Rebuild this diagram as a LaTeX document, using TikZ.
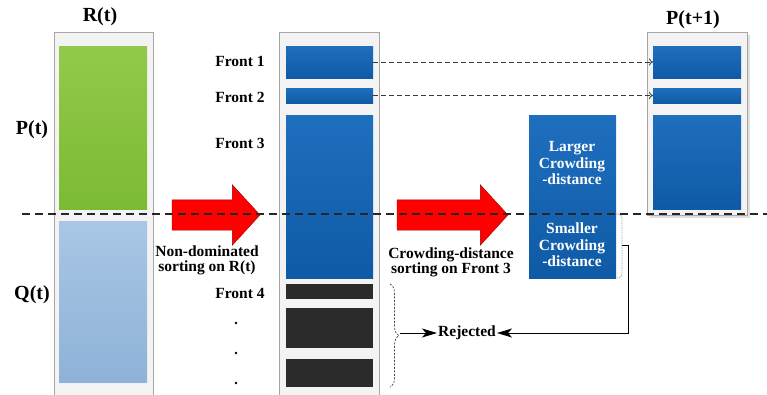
\documentclass[tikz,border=0pt]{standalone}
\usepackage{fontspec}
\setmainfont{Liberation Serif}
\usetikzlibrary{shapes.arrows,decorations.pathreplacing,shadows,arrows.meta}

\definecolor{outergray}{RGB}{243,243,243}
\definecolor{greentop}{RGB}{146,201,74}
\definecolor{greenbot}{RGB}{124,186,52}
\definecolor{qbluetop}{RGB}{169,198,229}
\definecolor{qbluebot}{RGB}{142,178,216}
\definecolor{fbluetop}{RGB}{31,111,191}
\definecolor{fbluebot}{RGB}{14,90,165}
\definecolor{rejblack}{RGB}{43,43,43}

\begin{document}
\begin{tikzpicture}[x=1pt, y=-1pt,
    slab/.style={inner sep=0, outer sep=0, anchor=north west},
    outer/.style={slab, fill=outergray, draw=gray!70},
    front/.style={slab, top color=fbluetop, bottom color=fbluebot},
    rejbox/.style={slab, fill=rejblack},
    lbl/.style={font=\fontsize{15.5}{15}\selectfont\bfseries, align=center, inner sep=1pt},
    title/.style={font=\fontsize{20}{20}\selectfont\bfseries, inner sep=0},
    bigarrow/.style={single arrow, anchor=tail, outer sep=0, fill=red, draw=red!60!black, inner xsep=0, inner ysep=15pt, single arrow head extend=15pt, single arrow tip angle=95},
    link/.style={gray!45!black, line width=0.8pt, dash pattern=on 5pt off 3pt, -{To[length=4pt, width=7pt]}},
    rejline/.style={line width=0.9pt, -{Stealth[length=15pt, width=9pt, inset=4pt]}}]
        \clip (0,0) rectangle (767,394);

        % R(t)
        \node[outer, minimum width=99, minimum height=370] (rbox) at (54,32) {};
        \node[slab, top color=greentop, bottom color=greenbot, minimum width=88, minimum height=163] (pt) at (59,46) {};
        \node[slab, top color=qbluetop, bottom color=qbluebot, minimum width=88, minimum height=161] (qt) at (59,221) {};
        \node[title] (rlbl) at (100,17) {R(t)};
        \node[title] (plbl) at (32,130) {P(t)};
        \node[title] (qlbl) at (32,295) {Q(t)};

        % sorted fronts
        \node[outer, minimum width=100, minimum height=370] (mbox) at (279,32) {};
        \node[front, minimum width=87, minimum height=32] (f1) at (286,46) {};
        \node[front, minimum width=87, minimum height=15] (f2) at (286,88) {};
        \node[front, minimum width=87, minimum height=163] (f3) at (286,115) {};
        \node[rejbox, minimum width=87, minimum height=15] (f4) at (286,284) {};
        \node[rejbox, minimum width=87, minimum height=40] (f5) at (286,308) {};
        \node[rejbox, minimum width=87, minimum height=28] (f6) at (286,359) {};
        \node[lbl] (l1) at (240,61) {Front 1};
        \node[lbl] (l2) at (240,97) {Front 2};
        \node[lbl] (l3) at (240,143) {Front 3};
        \node[lbl] (l4) at (240,293) {Front 4};
        \foreach \y [count=\i] in {323,353,383}
            \fill (236,\y) circle (1.4pt) coordinate (dot\i);

        % crowding distance
        \node[front, minimum width=87, minimum height=163] (cd) at (529,115) {};
        \node[lbl, text=white, font=\fontsize{15.5}{16.5}\selectfont\bfseries] (large) at (572,163) {Larger\\Crowding\\-distance};
        \node[lbl, text=white, font=\fontsize{15.5}{16.5}\selectfont\bfseries] (small) at (572,245) {Smaller\\Crowding\\-distance};

        % P(t+1)
        \node[outer, minimum width=100, minimum height=183, drop shadow={opacity=0.25, shadow xshift=3pt, shadow yshift=-3pt}] (nbox) at (647,32) {};
        \node[front, minimum width=88, minimum height=32] (n1) at (653,46) {};
        \node[front, minimum width=88, minimum height=15] (n2) at (653,88) {};
        \node[front, minimum width=88, minimum height=94] (n3) at (653,115) {};
        \node[title] (nlbl) at (693,20) {P(t+1)};

        % sorting arrows
        \node[bigarrow, minimum height=88] (a1) at (172,215) {};
        \node[bigarrow, minimum height=111] (a2) at (397,215) {};
        \node[lbl] (s1) at (207,260) {Non-dominated\\sorting on R(t)};
        \node[lbl] (s2) at (451,262) {Crowding-distance\\sorting on Front 3};

        \coordinate (hl) at (22,214);
        \coordinate (hr) at (767,214);
        \draw[line width=1.6pt, gray!30!black, dash pattern=on 8pt off 5pt] (hl) -- (hr);

        \draw[link] (f1.east) -- (n1.west);
        \draw[link] (f2.east) -- (n2.west);

        % rejected
        \node[lbl] (rej) at (467,333) {Rejected};
        \draw[gray!55!black, line width=0.7pt, dash pattern=on 2pt off 1.5pt, decorate, decoration={brace, amplitude=9pt}] (390,284) -- (390,387);
        \coordinate (btip) at (400,333);
        \draw[rejline] (btip) -- (rej.west);
        \draw[gray!70, line width=0.8pt, dash pattern=on 1.5pt off 1pt, rounded corners=4pt] (616,214) -- (622,214) -- (622,278) -- (616,278);
        \coordinate (sbr) at (622,245);
        \draw[rejline] (sbr) -- ++(6,0) |- (rej.east);
    \end{tikzpicture}
\end{document}
